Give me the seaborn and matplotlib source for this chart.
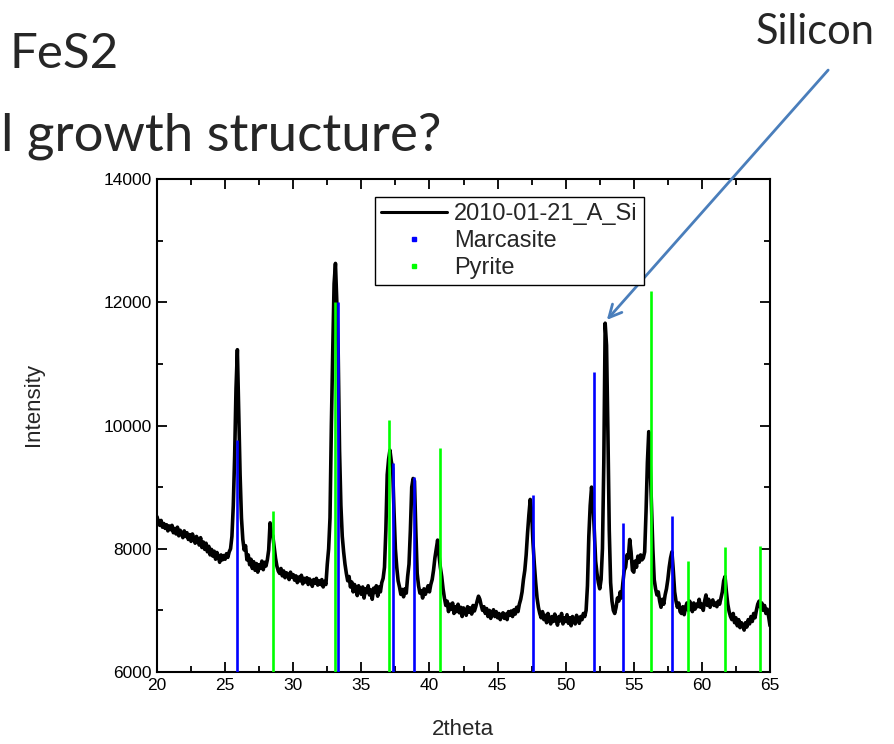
import numpy as np
import pandas as pd
import matplotlib
matplotlib.use("Agg")
import matplotlib.pyplot as plt
from matplotlib.lines import Line2D
from matplotlib.ticker import MultipleLocator
import seaborn as sns

# ---------------- data ----------------
two_theta = np.round(np.arange(20.0, 65.001, 0.1), 1)
intensity = [
    8520, 8440, 8380, 8460, 8350, 8410, 8330, 8390, 8290, 8370,   # 20
    8310, 8380, 8260, 8330, 8240, 8350, 8210, 8300, 8250, 8180,   # 21
    8290, 8200, 8260, 8150, 8230, 8120, 8240, 8170, 8090, 8200,   # 22
    8130, 8060, 8180, 8020, 8110, 7990, 8090, 7950, 8040, 7900,   # 23
    7990, 7880, 7960, 7830, 7940, 7870, 7780, 7900, 7820, 7890,   # 24
    7830, 7920, 7860, 7950, 8000, 8200, 8700, 9500, 10600, 11230, # 25
    10200, 9200, 8500, 8150, 7980, 8050, 7820, 7900, 7740, 7830,  # 26
    7680, 7790, 7650, 7760, 7620, 7740, 7680, 7800, 7660, 7780,   # 27
    7720, 7820, 7980, 8420, 8260, 8210, 8030, 7850, 7720, 7640,   # 28
    7600, 7680, 7560, 7640, 7530, 7610, 7580, 7500, 7620, 7540,   # 29
    7580, 7490, 7560, 7450, 7540, 7480, 7570, 7430, 7520, 7460,   # 30
    7530, 7420, 7510, 7460, 7390, 7500, 7440, 7520, 7410, 7480,   # 31
    7420, 7500, 7380, 7470, 7420, 7750, 8000, 8500, 10000, 11200, # 32
    12300, 12630, 12000, 11200, 9600, 8700, 8200, 7950, 7750, 7600, # 33
    7480, 7550, 7380, 7460, 7300, 7420, 7350, 7240, 7400, 7320,   # 34
    7260, 7380, 7200, 7350, 7290, 7400, 7250, 7330, 7180, 7360,   # 35
    7290, 7400, 7230, 7380, 7300, 7450, 7520, 7700, 8300, 9200,   # 36
    9450, 9600, 9420, 9300, 8600, 8000, 7700, 7480, 7380, 7260,   # 37
    7340, 7220, 7350, 7280, 7550, 7750, 8300, 9000, 9140, 9100,   # 38
    8300, 7600, 7400, 7280, 7320, 7200, 7350, 7260, 7330, 7400,   # 39
    7300, 7420, 7500, 7650, 7850, 8000, 8140, 7900, 7700, 7550,   # 40
    7350, 7200, 7080, 7150, 6980, 7100, 7020, 7120, 6950, 7060,   # 41
    6980, 7100, 6960, 7050, 6900, 7040, 6990, 6920, 7060, 6970,   # 42
    7040, 6940, 7080, 6990, 7060, 7150, 7230, 7180, 7080, 7000,   # 43
    7060, 6950, 7030, 6900, 7000, 6870, 6960, 7010, 6900, 6980,   # 44
    6880, 6950, 6850, 6930, 6960, 6870, 6940, 6850, 6980, 6920,   # 45
    6990, 6900, 7010, 6940, 7050, 6980, 7100, 7180, 7300, 7500,   # 46
    7650, 7900, 8250, 8550, 8800, 8600, 8100, 7750, 7450, 7200,   # 47
    7050, 6950, 6880, 6980, 6850, 6920, 6800, 6950, 6870, 6780,   # 48
    6900, 6820, 6940, 6850, 6760, 6900, 6830, 6950, 6780, 6880,   # 49
    6820, 6930, 6790, 6880, 6750, 6900, 6840, 6780, 6920, 6850,   # 50
    6790, 6900, 6850, 6950, 6900, 7000, 7400, 8200, 8700, 9000,   # 51
    8800, 8300, 7800, 7600, 7450, 7350, 7500, 8000, 9400, 11660,  # 52
    11300, 9900, 8300, 7450, 7150, 7000, 6950, 7050, 7200, 7150,  # 53
    7300, 7200, 7450, 7650, 7700, 7900, 7850, 8150, 7950, 7650,   # 54
    7620, 7800, 7700, 7880, 7780, 7900, 7820, 7850, 7950, 8600,   # 55
    9400, 9900, 9400, 8700, 8000, 7500, 7350, 7250, 7300, 7150,   # 56
    7050, 7180, 7100, 7250, 7350, 7500, 7700, 7850, 7950, 7650,   # 57
    7300, 7150, 7050, 7120, 6980, 6950, 7060, 6930, 7050, 7120,   # 58
    7000, 7150, 7080, 6980, 7120, 7020, 7100, 7060, 7180, 7050,   # 59
    7100, 7000, 7150, 7250, 7080, 7180, 7050, 7130, 7170, 7080,   # 60
    7120, 7060, 7150, 7100, 7200, 7300, 7480, 7550, 7300, 7100,   # 61
    6980, 6900, 6850, 6950, 6800, 6880, 6750, 6850, 6720, 6800,   # 62
    6760, 6680, 6800, 6730, 6850, 6780, 6900, 6820, 6950, 6880,   # 63
    7000, 7100, 7150, 7050, 7120, 7000, 7080, 6950, 7020, 6900,   # 64
    6750,                                                          # 65
]

marcasite_pos = [25.9, 33.3, 37.3, 38.9, 47.6, 52.06, 54.2, 57.83]
marcasite_int = [9760, 12000, 9390, 9160, 8880, 10870, 8410, 8535]

pyrite_pos = [28.5, 33.05, 37.06, 40.78, 56.3, 59.0, 61.7, 64.27]
pyrite_int = [8620, 12000, 10090, 9630, 12180, 7800, 8030, 8040]

series_label = "2010-01-21_A_Si"
x_ticks = [20, 25, 30, 35, 40, 45, 50, 55, 60, 65]
y_ticks = [6000, 8000, 10000, 12000, 14000]

# ---------------- figure ----------------
sns.set_style("ticks")
plt.rcParams["font.family"] = ["Liberation Sans", "DejaVu Sans"]

fig = plt.figure(figsize=(8.94, 7.44), dpi=100)
ax = fig.add_axes([157 / 894, 1 - 672 / 744, 613 / 894, 493 / 744])

df = pd.DataFrame({"two_theta": two_theta, "intensity": intensity})
sns.lineplot(data=df, x="two_theta", y="intensity", ax=ax, color="black",
             linewidth=2.6, legend=False, zorder=2)

ax.vlines(marcasite_pos, 6000, marcasite_int, colors="#0000FF", linewidth=1.9, zorder=3)
ax.vlines(pyrite_pos, 6000, pyrite_int, colors="#00FF00", linewidth=1.9, zorder=3)

ax.set_xlim(20, 65)
ax.set_ylim(6000, 14000)
ax.set_xticks(x_ticks)
ax.set_yticks(y_ticks)
ax.xaxis.set_minor_locator(MultipleLocator(2.5))
ax.yaxis.set_minor_locator(MultipleLocator(1000))
ax.tick_params(which="both", direction="in", top=True, right=True, width=1.3,
               labelsize=12.5, colors="black")
ax.tick_params(which="major", length=7, pad=4)
ax.tick_params(which="minor", length=4)
for s in ax.spines.values():
    s.set_linewidth(1.5)
    s.set_color("black")

ax.set_xlabel("2theta", fontsize=16)
ax.set_ylabel("Intensity", fontsize=16)
ax.xaxis.set_label_coords(0.499, (672 - 719) / 493)
ax.yaxis.set_label_coords((44 - 157) / 613, (672 - 405) / 493)

handles = [
    Line2D([], [], color="black", linewidth=2.2),
    Line2D([], [], color="#0000FF", marker="s", markersize=3.5, linestyle="none"),
    Line2D([], [], color="#00FF00", marker="s", markersize=3.5, linestyle="none"),
]
leg = ax.legend(handles, [series_label, "Marcasite", "Pyrite"],
                loc="upper left", bbox_to_anchor=(218 / 613, (672 - 197) / 493),
                fancybox=False, edgecolor="black", framealpha=1,
                fontsize=17, handlelength=2.8, handletextpad=0.3,
                borderpad=0.25, labelspacing=0.22, borderaxespad=0)
leg.get_frame().set_linewidth(1.0)

# slide texts
fig.text(10 / 894, 1 - 68 / 744, "FeS2", fontsize=35.5, family="Lato",
         ha="left", va="baseline")
fig.text(1 / 894, 1 - 150 / 744, "l growth structure?", fontsize=38, family="Lato",
         ha="left", va="baseline")
fig.text(815 / 894, 1 - 44 / 744, "Silicon", fontsize=30, family="Lato",
         ha="center", va="baseline")

# arrow pointing to the silicon peak
ax.annotate("", xy=(605 / 894, 1 - 322 / 744), xycoords="figure fraction",
            xytext=(830 / 894, 1 - 68 / 744), textcoords="figure fraction",
            arrowprops=dict(arrowstyle="->,head_length=0.9,head_width=0.45",
                            color="#4A7EBB", linewidth=2),
            annotation_clip=False)

fig.savefig("out.png", dpi=100)
